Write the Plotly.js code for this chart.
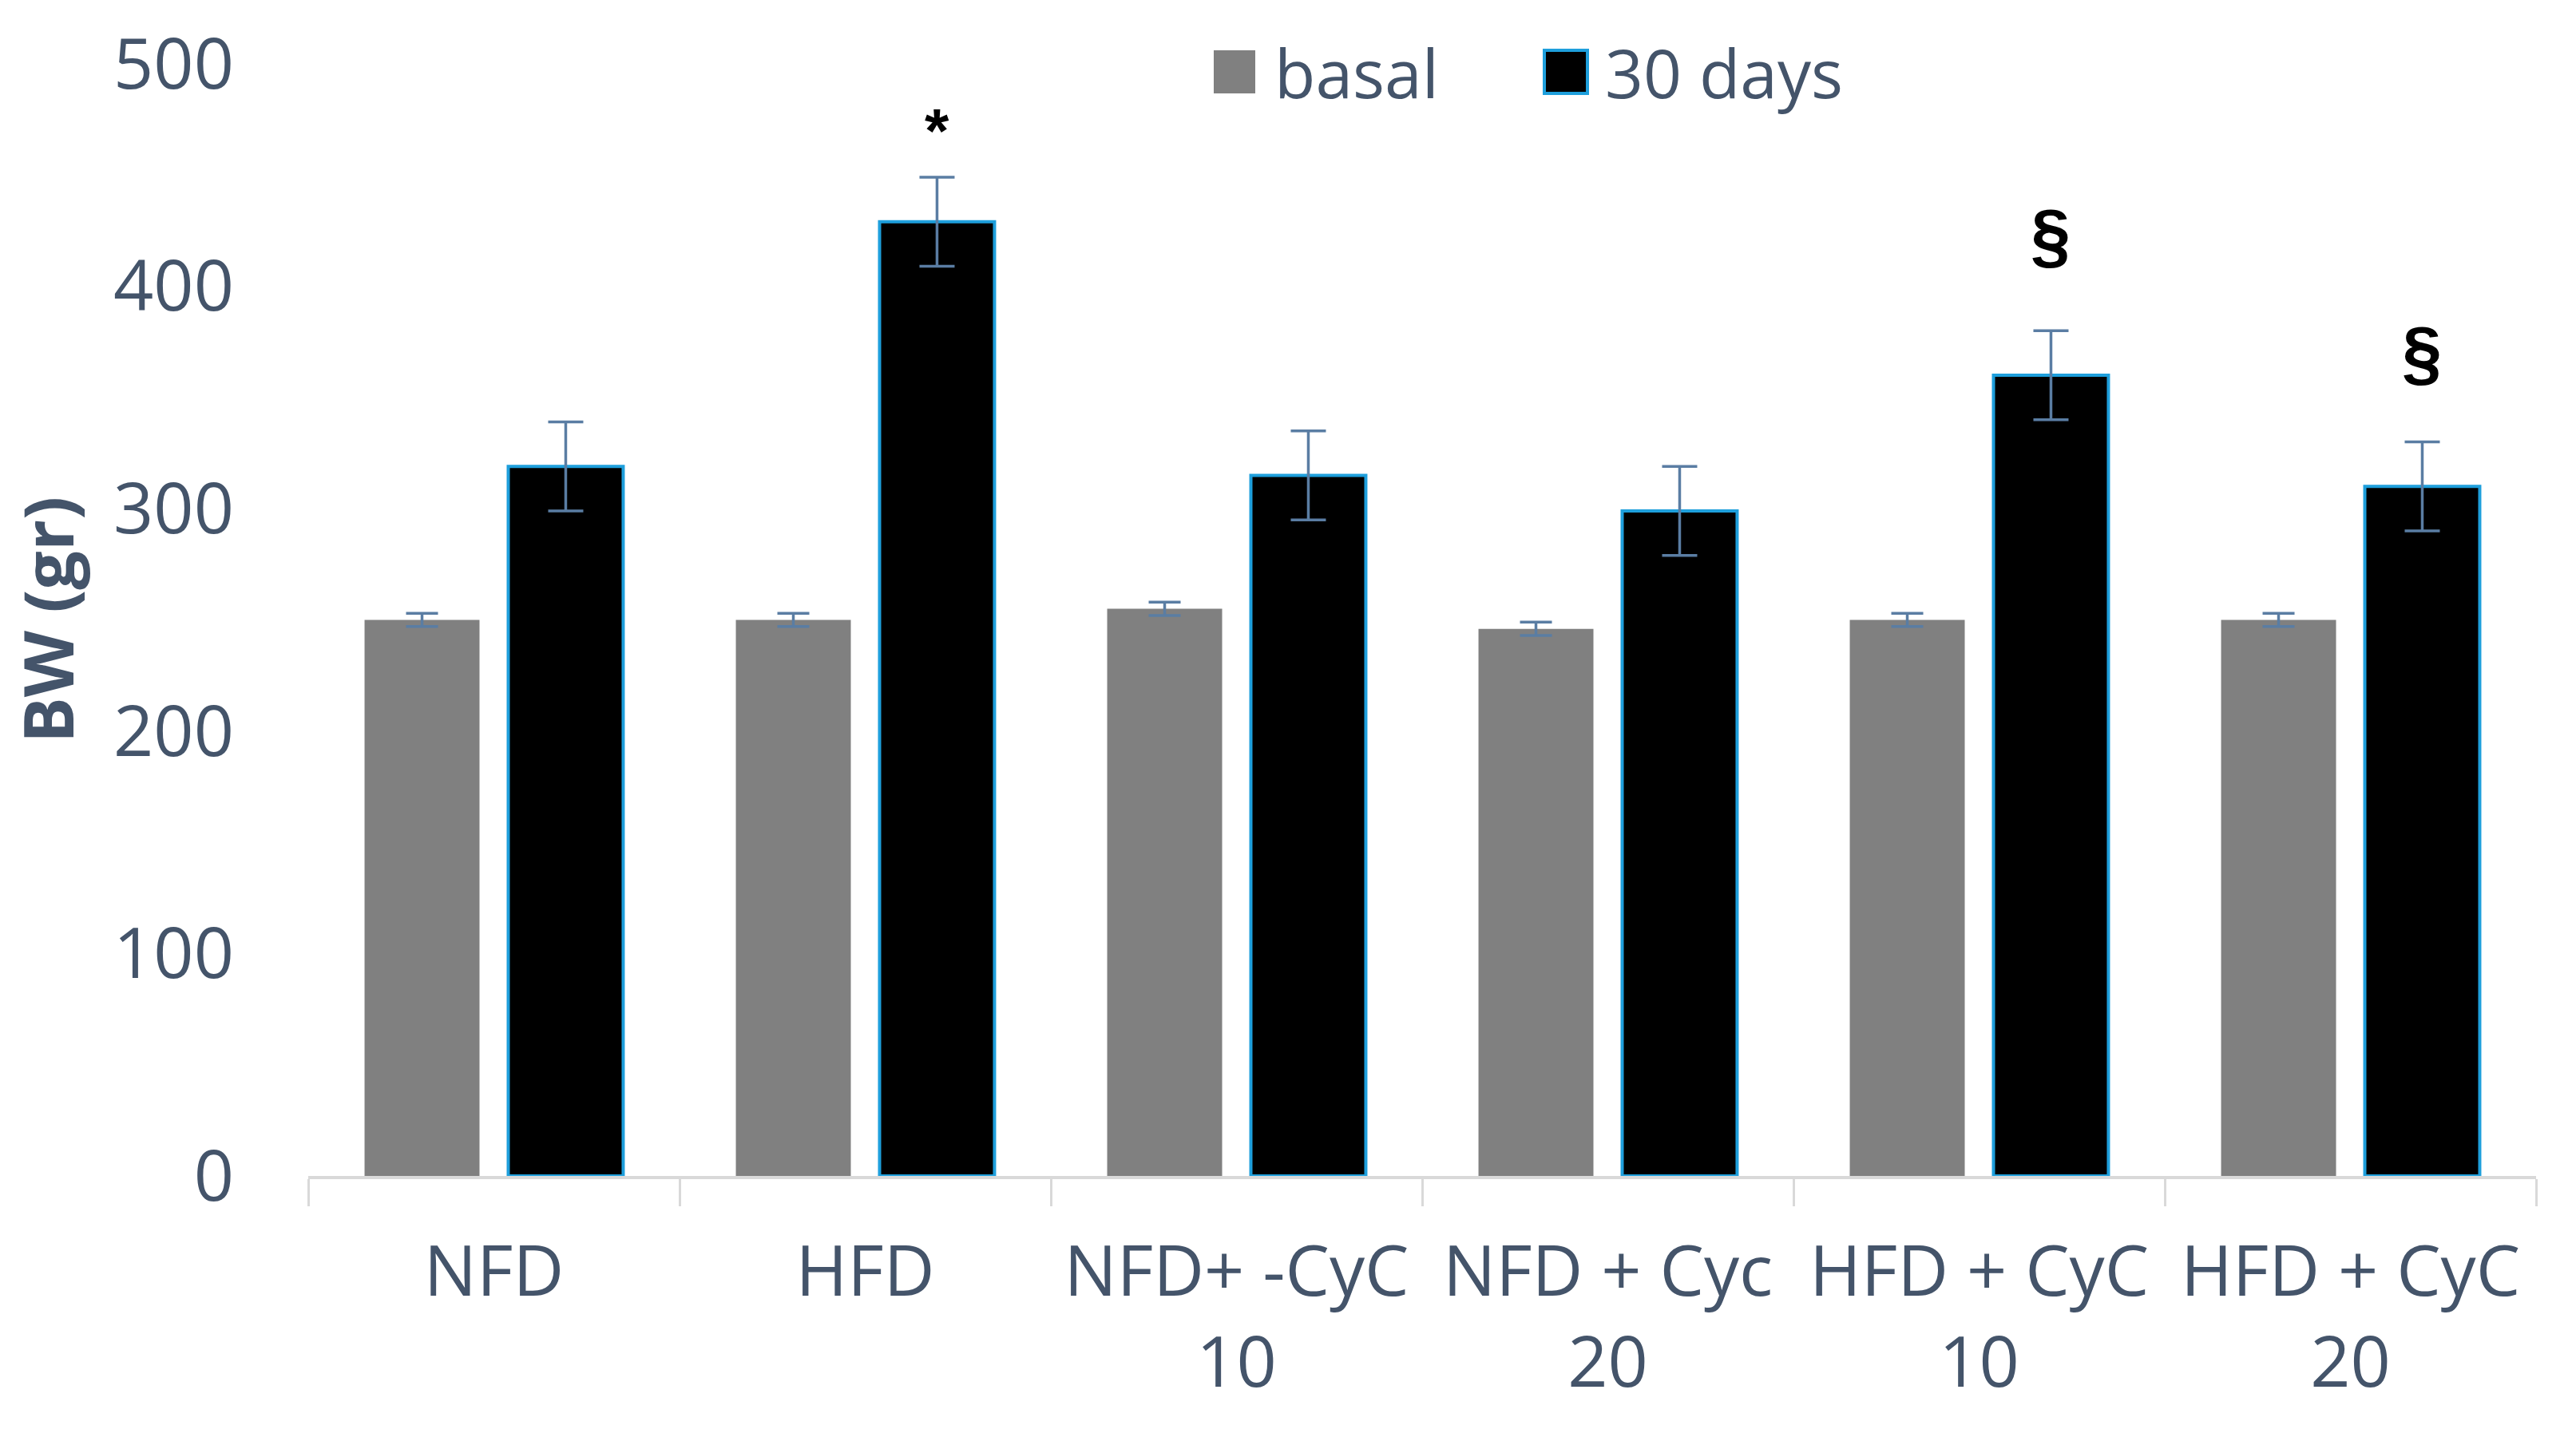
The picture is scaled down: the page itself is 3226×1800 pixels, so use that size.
<!DOCTYPE html>
<html>
<head>
<meta charset="utf-8">
<script src="https://cdn.plot.ly/plotly-3.0.1.min.js"></script>
<style>html,body{margin:0;padding:0;background:#fff;}#chart{width:3226px;height:1800px;}</style>
</head>
<body>
<div id="chart"></div>
<script>
const categories = ["NFD", "HFD", "NFD+ -CyC<br>10", "NFD + Cyc<br>20", "HFD + CyC<br>10", "HFD + CyC<br>20"];
const basal = [250, 250, 255, 246, 250, 250];
const basalErr = [3, 3, 3, 3, 3, 3];
const days30 = [319, 429, 315, 299, 360, 310];
const days30Err = [20, 20, 20, 20, 20, 20];
const marks = [
  {cat: 1, text: "*", y: 470},
  {cat: 4, text: "§", y: 423},
  {cat: 5, text: "§", y: 370}
];
const yTicks = [0, 100, 200, 300, 400, 500];
const seriesNames = ["basal", "30 days"];

const textColor = "#44546A";
const font = "Open Sans, Noto Sans, sans-serif";
const bargap = 0.226;
const W = 3226, H = 1800;
const M = {l: 386, r: 50, t: 80, b: 327};
const px2x = p => (p - M.l) / (W - M.l - M.r);
const py2y = p => 1 - (p - M.t) / (H - M.t - M.b);

const traces = [
  {
    type: "bar", name: seriesNames[0], x: categories, y: basal, showlegend: false,
    marker: {color: "#808080", line: {width: 0}},
    error_y: {type: "data", array: basalErr, visible: true, color: "#5A7DA3", thickness: 3.5, width: 20}
  },
  {
    type: "bar", name: seriesNames[1], x: categories, y: days30, showlegend: false,
    marker: {color: "#000000", line: {color: "#1E9FDC", width: 4}},
    error_y: {type: "data", array: days30Err, visible: true, color: "#5A7DA3", thickness: 3.5, width: 22}
  }
];

const annotations = marks.map(m => ({
  x: m.cat + (1 - bargap) / 4, y: m.y, xref: "x", yref: "y",
  text: "<b>" + m.text + "</b>", showarrow: false,
  font: {family: "Liberation Sans, Arial, sans-serif", size: m.text === "*" ? 78 : 90, color: "#000"},
  yanchor: "middle", xanchor: "center"
}));

// manual legend (large square swatches)
const legY = 90;
const legItems = [
  {x0: 1520, x1: 1572, tx: 1594, fill: "#808080", line: "rgba(0,0,0,0)", lw: 0},
  {x0: 1934, x1: 1988, tx: 2008, fill: "#000000", line: "#1E9FDC", lw: 4}
];
const shapes = legItems.map(it => ({
  type: "rect", xref: "paper", yref: "paper",
  x0: px2x(it.x0), x1: px2x(it.x1), y0: py2y(legY + 27), y1: py2y(legY - 27),
  fillcolor: it.fill, line: {color: it.line, width: it.lw}, layer: "above"
}));
legItems.forEach((it, i) => annotations.push({
  xref: "paper", yref: "paper", x: px2x(it.tx), y: py2y(legY),
  xanchor: "left", yanchor: "middle", showarrow: false,
  text: seriesNames[i], font: {family: font, size: 84, color: textColor}
}));

const layout = {
  width: W, height: H,
  paper_bgcolor: "#fff", plot_bgcolor: "#fff",
  margin: M,
  barmode: "group", bargap: bargap, bargroupgap: 0.2,
  font: {family: font, color: textColor, size: 88},
  showlegend: false,
  xaxis: {
    type: "category", showgrid: false, zeroline: false,
    showline: true, linecolor: "#D9D9D9", linewidth: 4,
    ticks: "outside", tickson: "boundaries", ticklen: 34, tickcolor: "#D9D9D9", tickwidth: 3,
    tickfont: {family: font, size: 88, color: textColor},
    ticklabelstandoff: 40, automargin: false
  },
  yaxis: {
    range: [0, 500], tickvals: yTicks, showgrid: false, zeroline: false, showline: false,
    ticks: "", tickfont: {family: font, size: 88, color: textColor},
    ticklabelstandoff: 92, automargin: false,
    title: {text: "<b>BW (gr)</b>", font: {family: font, size: 86, color: textColor}, standoff: 36}
  },
  shapes: shapes,
  annotations: annotations
};

Plotly.newPlot("chart", traces, layout, {staticPlot: true, displayModeBar: false});
</script>
</body>
</html>
